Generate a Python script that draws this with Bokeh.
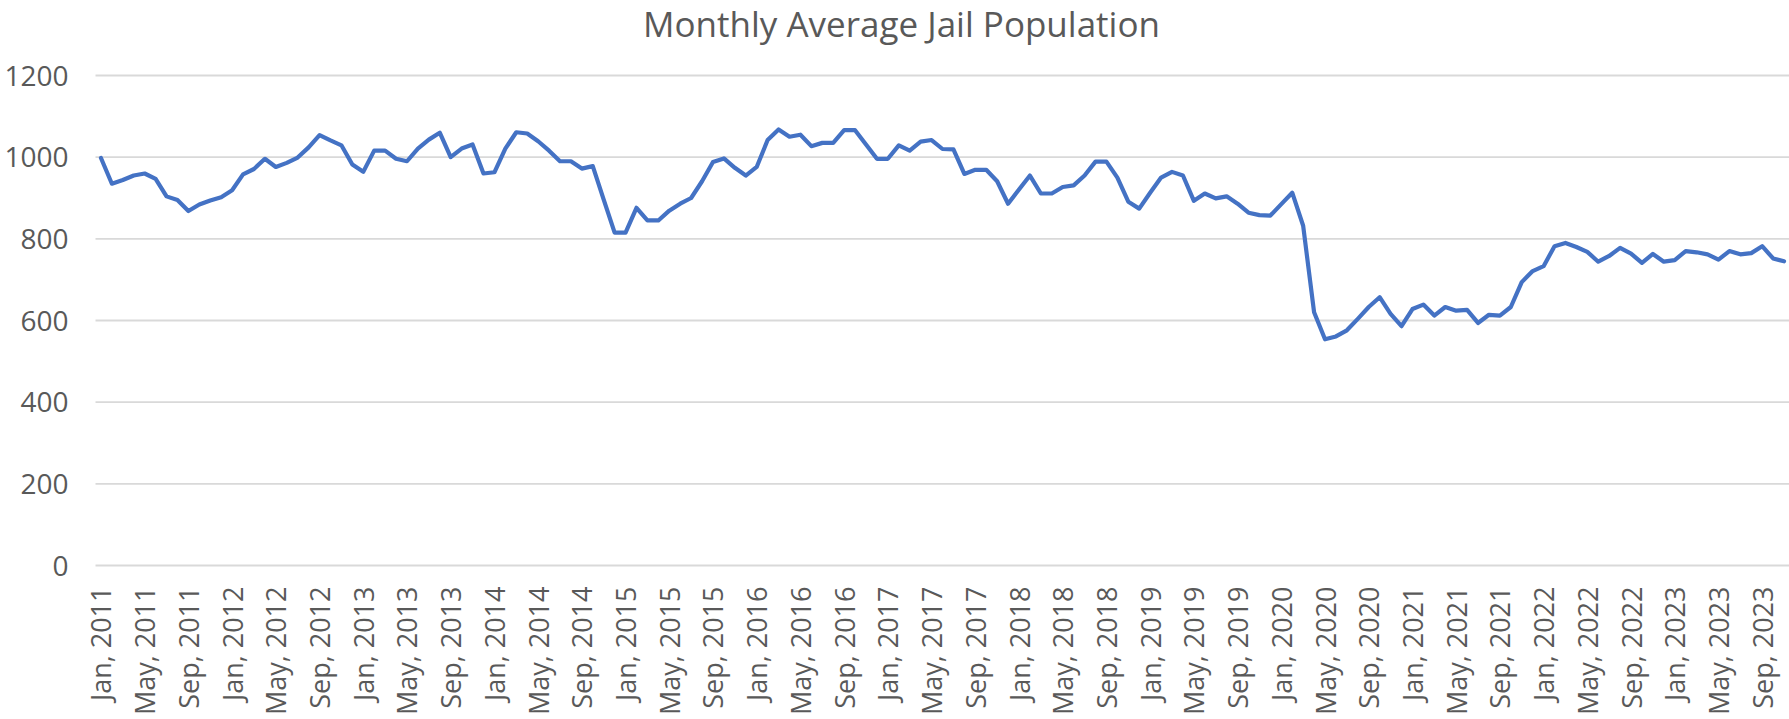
import math
from bokeh.plotting import figure
from bokeh.models import Range1d, ColumnDataSource, Label
from bokeh.core.properties import value
from bokeh.embed import file_html
from bokeh.resources import INLINE

month_names = ["Jan", "Feb", "Mar", "Apr", "May", "Jun",
               "Jul", "Aug", "Sep", "Oct", "Nov", "Dec"]
years = list(range(2011, 2024))
months = [f"{m}, {y}" for y in years for m in month_names][:155]

population = [
    998, 935, 944, 955, 960, 947, 904, 895, 868, 884, 894, 902,        # 2011
    919, 958, 971, 996, 976, 986, 999, 1024, 1054, 1041, 1029, 982,    # 2012
    964, 1016, 1016, 996, 990, 1021, 1043, 1060, 1000, 1021, 1031, 960, # 2013
    963, 1021, 1061, 1058, 1039, 1016, 990, 990, 972, 978, 896, 815,   # 2014
    815, 876, 845, 845, 869, 886, 900, 941, 988, 997, 974, 955,        # 2015
    976, 1042, 1068, 1050, 1055, 1027, 1035, 1035, 1066, 1066, 1031, 996, # 2016
    996, 1029, 1016, 1038, 1042, 1020, 1019, 959, 969, 969, 941, 886,  # 2017
    921, 955, 911, 911, 927, 931, 955, 989, 989, 950, 891, 874,        # 2018
    913, 950, 964, 955, 893, 911, 899, 904, 886, 864, 858, 857,        # 2019
    885, 913, 832, 620, 554, 561, 576, 604, 633, 657, 616, 586,        # 2020
    628, 639, 612, 633, 624, 626, 594, 614, 612, 633, 694, 721,        # 2021
    733, 782, 790, 780, 768, 744, 758, 778, 764, 741, 763, 744,        # 2022
    748, 770, 767, 762, 749, 770, 762, 765, 782, 752, 745,             # 2023
]

title_text = "Monthly Average Jail Population"
y_ticks = [0, 200, 400, 600, 800, 1000, 1200]
y_tick_text = [str(v) for v in y_ticks]
x_tick_idx = list(range(0, len(months), 4))
x_tick_text = [months[i] for i in x_tick_idx]

FONT = "Open Sans"
TEXT = "#595959"
GRID = "#D9D9D9"
LINE = "#4472C4"

# ---- layout (pixels) ----
W, H = 1789, 719
PLOT_LEFT = 95      # left edge of plot area
PLOT_TOP = 75       # pixel row of the axis maximum
PLOT_BOTTOM = 565   # pixel row of zero
n = len(population)
y_min, y_max = y_ticks[0], y_ticks[-1]

px_per_cat = (W - PLOT_LEFT) / n
cat_lo, cat_hi = -0.5, n - 0.5
x_start = cat_lo - PLOT_LEFT / px_per_cat
px_per_unit = (PLOT_BOTTOM - PLOT_TOP) / (y_max - y_min)
y_end = y_max + PLOT_TOP / px_per_unit
y_start = y_min - (H - PLOT_BOTTOM) / px_per_unit

src = ColumnDataSource(dict(x=list(range(n)), y=population, month=months))
grid_src = ColumnDataSource(dict(x0=[cat_lo] * len(y_ticks), x1=[cat_hi] * len(y_ticks),
                                 y=y_ticks, text=y_tick_text))
xlab_src = ColumnDataSource(dict(x=x_tick_idx, y=[y_min] * len(x_tick_idx), text=x_tick_text))

p = figure(width=W, height=H, output_backend="svg", toolbar_location=None,
           title=None,
           x_range=Range1d(x_start, cat_hi), y_range=Range1d(y_start, y_end),
           min_border=0, min_border_left=0, min_border_right=0,
           min_border_top=0, min_border_bottom=0)
p.outline_line_color = None
p.background_fill_color = "white"
p.border_fill_color = "white"
p.xaxis.visible = False
p.yaxis.visible = False
p.xgrid.visible = False
p.ygrid.visible = False

# horizontal gridlines
p.segment(x0="x0", x1="x1", y0="y", y1="y", source=grid_src,
          line_color=GRID, line_width=1.8)

# value-axis labels
p.text(x="x0", y="y", text="text", source=grid_src, x_offset=-27,
       text_font=value(FONT), text_font_size="28px", text_color=TEXT,
       text_align="right", text_baseline="middle")

# category-axis labels, rotated to read bottom-to-top
p.text(x="x", y="y", text="text", source=xlab_src, y_offset=21,
       angle=math.pi / 2, text_font=value(FONT), text_font_size="27px",
       text_color=TEXT, text_align="right", text_baseline="middle")

# the series
p.line("x", "y", source=src, line_color=LINE, line_width=4.2,
       line_join="round", line_cap="round")

# chart title
p.add_layout(Label(x=901, y=H - 23, x_units="screen", y_units="screen",
                   text=title_text, text_font=FONT, text_font_size="35px",
                   text_color=TEXT, text_align="center", text_baseline="alphabetic"))

open("out.html", "w").write(file_html(p, INLINE))
